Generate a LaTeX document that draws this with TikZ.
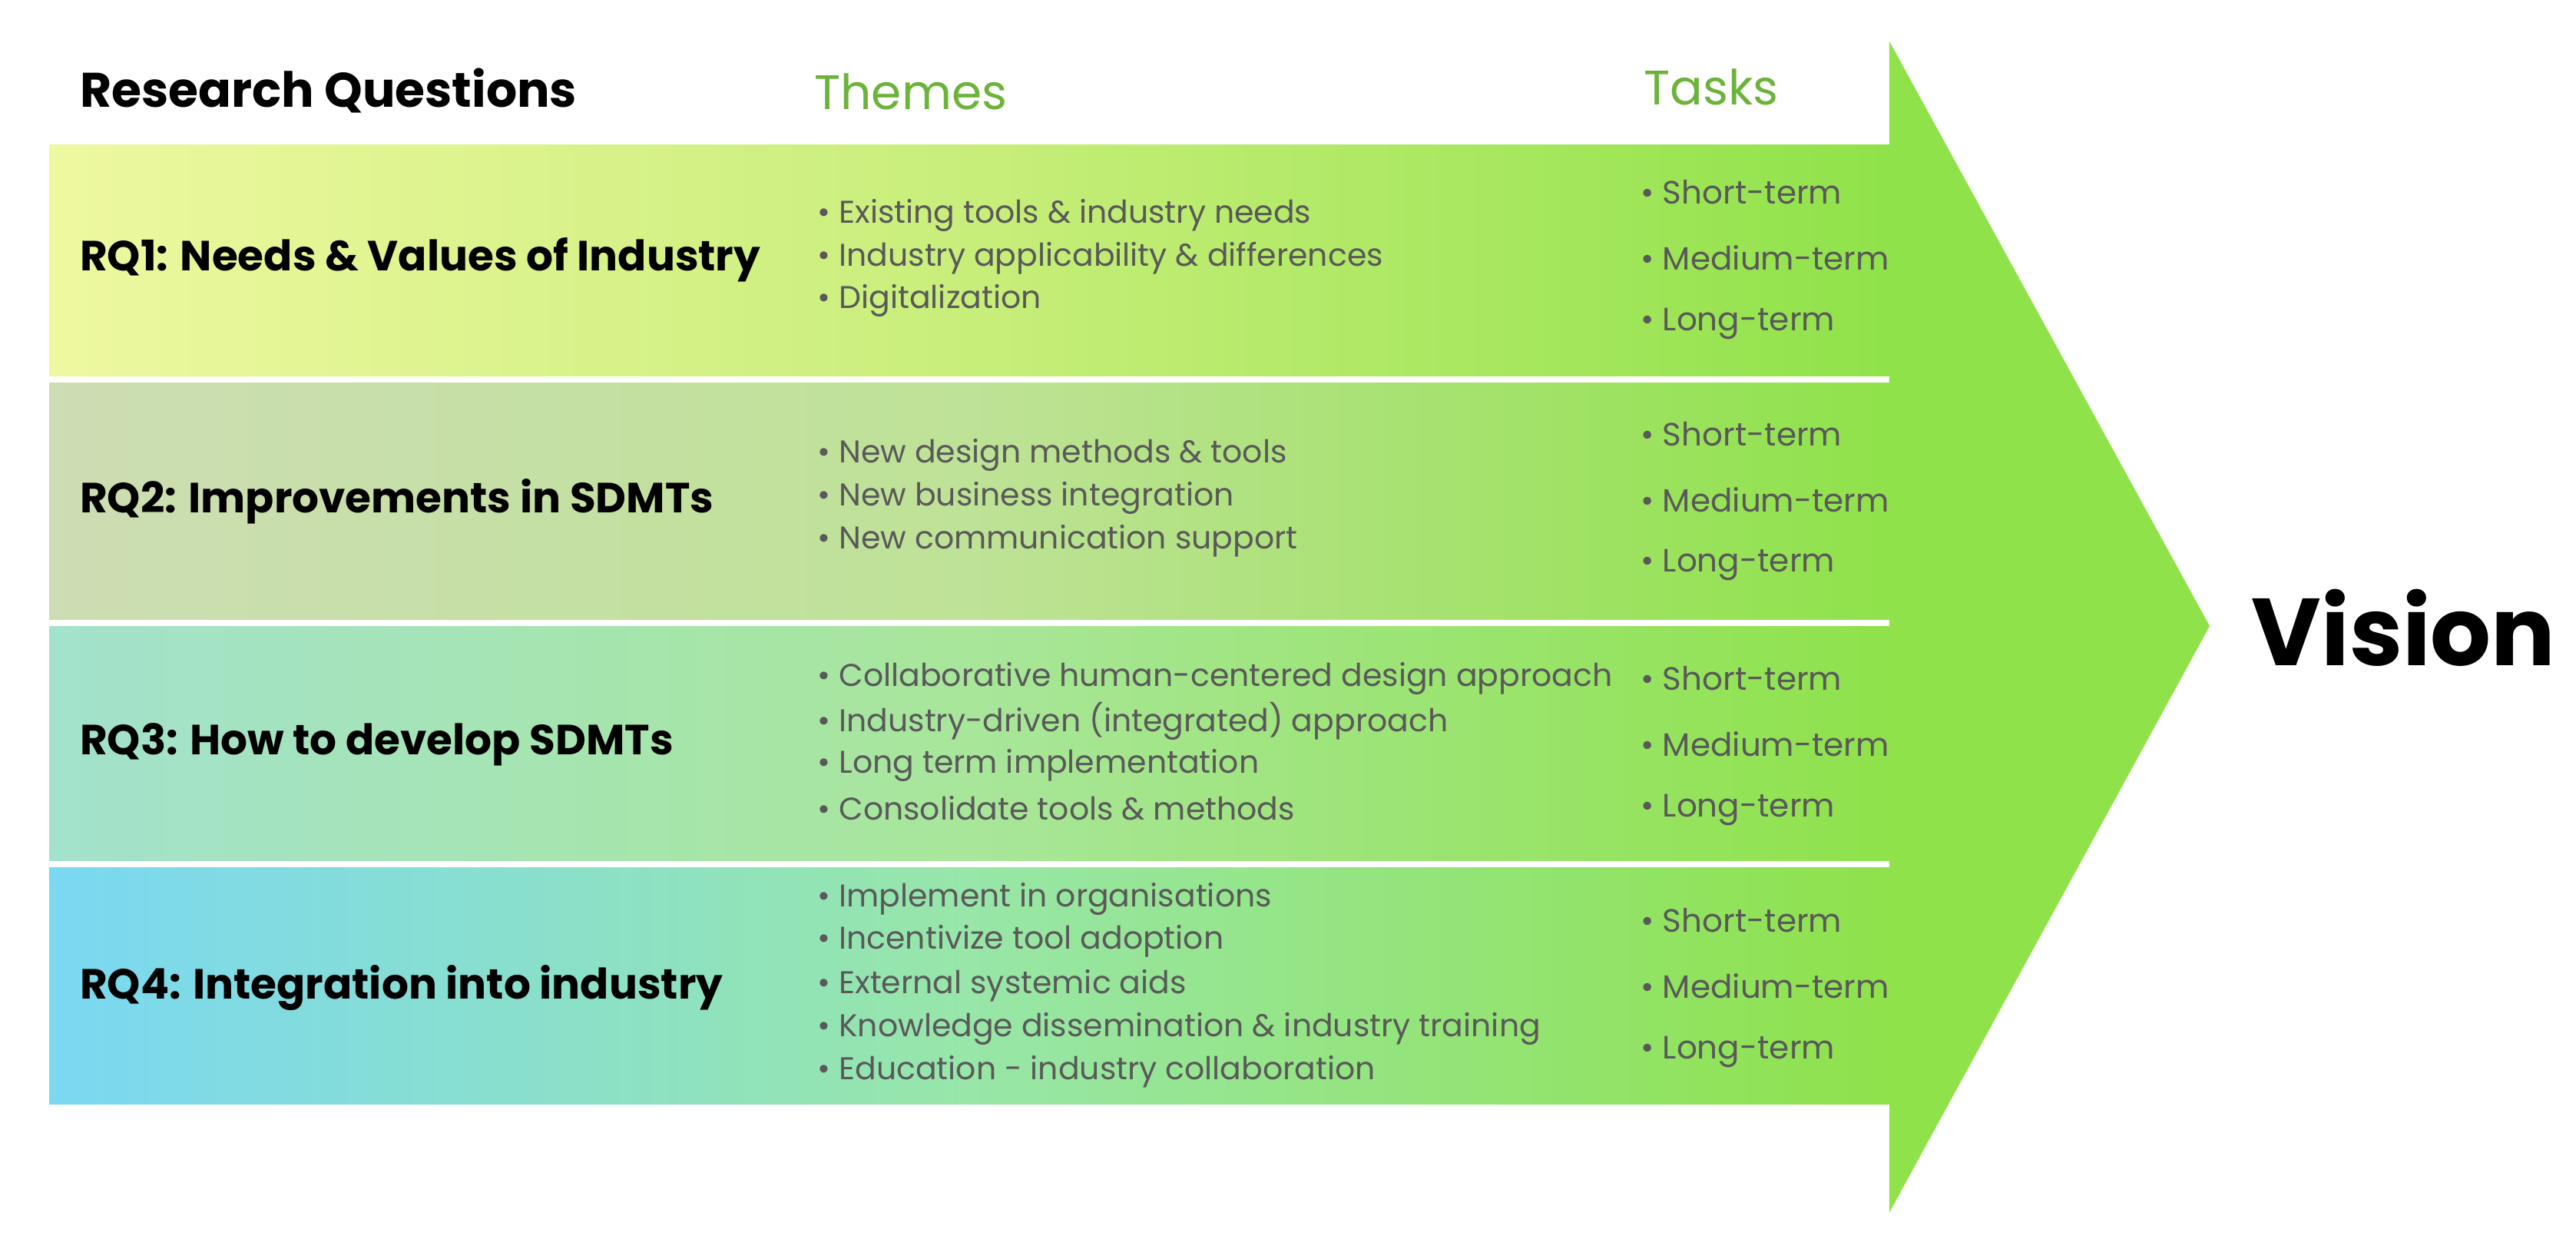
\documentclass[tikz,border=0pt]{standalone}
\usepackage{fontspec}
\setmainfont{Poppins}
\definecolor{gr}{HTML}{8FE24A}
\definecolor{hdg}{HTML}{6CB33A}
\definecolor{l1}{HTML}{EEF8A0}\definecolor{m1}{HTML}{C8EE7A}
\definecolor{l2}{HTML}{CDDDB4}\definecolor{m2}{HTML}{BEE296}
\definecolor{l3}{HTML}{A3E2CC}\definecolor{m3}{HTML}{A8E69A}
\definecolor{l4}{HTML}{7AD8F2}\definecolor{m4}{HTML}{98E6A8}
\begin{document}
\begin{tikzpicture}[x=0.1mm,y=-0.1mm,
  rq/.style={anchor=west,font=\fontsize{7.3}{9}\selectfont\bfseries,text=black,inner sep=0},
  hd/.style={anchor=west,font=\fontsize{8.4}{10}\selectfont,text=hdg,inner sep=0},
  bl/.style={anchor=west,font=\fontsize{5.45}{6.6}\selectfont,text=black!65,inner sep=0,align=left},
  tk/.style={anchor=west,font=\fontsize{5.6}{6.8}\selectfont,text=black!65,inner sep=0}]
\useasboundingbox (0,0) rectangle (1568,760);
\fill[white] (0,0) rectangle (1568,760);
\fill[gr] (1150,25) -- (1345,381) -- (1150,738) -- cycle;
\shade[left color=l1, right color=gr, middle color=m1] (30,88) rectangle (1156,229);
\shade[left color=l2, right color=gr, middle color=m2] (30,233) rectangle (1156,377);
\shade[left color=l3, right color=gr, middle color=m3] (30,381) rectangle (1156,524);
\shade[left color=l4, right color=gr, middle color=m4] (30,528) rectangle (1156,672);
\node[rq] (h1) at (48,55) {\fontsize{8.4}{10}\selectfont Research Questions};
\node[hd] (h2) at (495,56) {Themes};
\node[hd] (h3) at (1000,53) {Tasks};
\node[rq] (r1) at (48,158) {RQ1: Needs \& Values of Industry};
\node[rq] (r2) at (48,305) {RQ2: Improvements in SDMTs};
\node[rq] (r3) at (48,453) {RQ3: How to develop SDMTs};
\node[rq] (r4) at (48,601) {RQ4: Integration into industry};
\node[bl] (t1a) at (497,131) {• Existing tools \& industry needs};
\node[bl] (t1b) at (497,157) {• Industry applicability \& differences};
\node[bl] (t1c) at (497,183) {• Digitalization};
\node[bl] (t2a) at (497,277) {• New design methods \& tools};
\node[bl] (t2b) at (497,303) {• New business integration};
\node[bl] (t2c) at (497,329) {• New communication support};
\node[bl] (t3a) at (497,413) {• Collaborative human-centered design approach};
\node[bl] (t3b) at (497,439) {• Industry-driven (integrated) approach};
\node[bl] (t3c) at (497,466) {• Long term implementation};
\node[bl] (t3d) at (497,492) {• Consolidate tools \& methods};
\node[bl] (t4a) at (497,547) {• Implement in organisations};
\node[bl] (t4b) at (497,573) {• Incentivize tool adoption};
\node[bl] (t4c) at (497,600) {• External systemic aids};
\node[bl] (t4d) at (497,626) {• Knowledge dissemination \& industry training};
\node[bl] (t4e) at (497,652) {• Education - industry collaboration};
\foreach \r/\a/\b/\c in {1/117/157/197,2/264/304/344,3/413/453/493,4/560/600/640}{
  \node[tk] (k\r a) at (998,\a) {• Short-term};
  \node[tk] (k\r b) at (998,\b) {• Medium-term};
  \node[tk] (k\r c) at (998,\c) {• Long-term};
}
\node[anchor=west,inner sep=0,font=\fontsize{16.5}{20}\selectfont\bfseries] (v) at (1370,382) {Vision};
\end{tikzpicture}
\end{document}
